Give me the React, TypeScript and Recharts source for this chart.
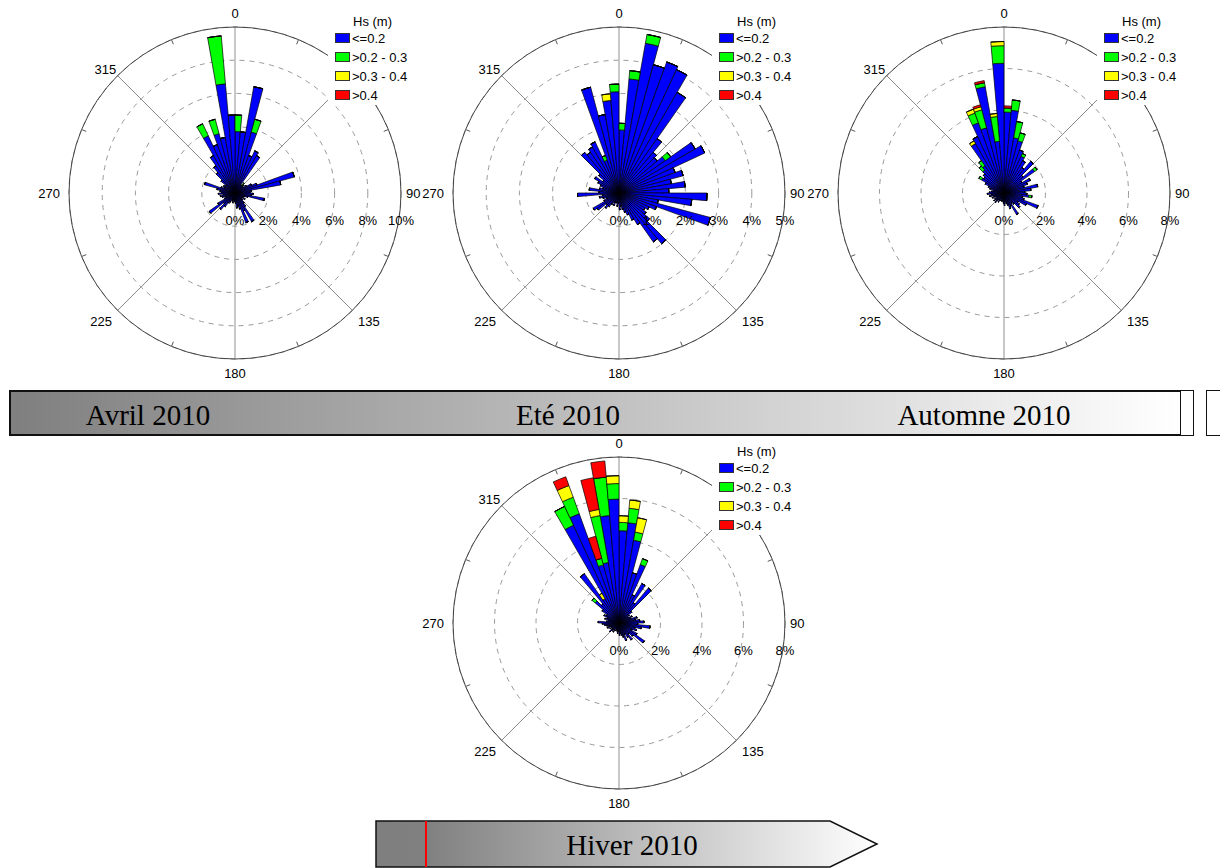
import React from "react";
import {
  RadialBarChart,
  RadialBar,
  PolarAngleAxis,
  PolarRadiusAxis,
  PolarGrid,
} from "recharts";

// direction bins (start of each 5° sector, compass degrees)
const DIRECTIONS = [
  0, 5, 10, 15, 20, 25, 30, 35, 40, 45, 50, 55,
  60, 65, 70, 75, 80, 85, 90, 95, 100, 105, 110, 115,
  120, 125, 130, 135, 140, 145, 150, 155, 160, 165, 170, 175,
  180, 185, 190, 195, 200, 205, 210, 215, 220, 225, 230, 235,
  240, 245, 250, 255, 260, 265, 270, 275, 280, 285, 290, 295,
  300, 305, 310, 315, 320, 325, 330, 335, 340, 345, 350, 355,
];

const HS_CLASSES = ["<=0.2", ">0.2 - 0.3", ">0.3 - 0.4", ">0.4"];
const HS_COLORS = ["#0000ff", "#00ff00", "#ffff00", "#ff0000"];
const HS_KEYS = ["low", "mid", "high", "top"];

const COMPASS_LABELS = [0, 90, 135, 180, 225, 270, 315];
const RIM_TICKS = [22.5, 67.5, 112.5, 157.5, 202.5, 247.5, 292.5, 337.5];

const NO_DATA = [
  0, 0, 0, 0, 0, 0, 0, 0, 0, 0, 0, 0,
  0, 0, 0, 0, 0, 0, 0, 0, 0, 0, 0, 0,
  0, 0, 0, 0, 0, 0, 0, 0, 0, 0, 0, 0,
  0, 0, 0, 0, 0, 0, 0, 0, 0, 0, 0, 0,
  0, 0, 0, 0, 0, 0, 0, 0, 0, 0, 0, 0,
  0, 0, 0, 0, 0, 0, 0, 0, 0, 0, 0, 0,
];

// Avril 2010 (% of time)
const AVRIL_LOW = [
  3.7, 3.7, 6.5, 3.8, 2.4, 2.8, 2.6, 0.6, 0.6, 0.7, 0.6, 0.8,
  1.1, 1.4, 3.7, 2.8, 1.0, 0.9, 1.1, 1.0, 1.8, 0.8, 0.6, 0.5,
  0.7, 0.5, 0.6, 0.8, 1.0, 2.0, 1.2, 1.9, 1.0, 0.8, 0.9, 0.6,
  0.5, 0.4, 0.6, 0.5, 0.4, 0.6, 0.7, 1.0, 1.3, 0.9, 1.9, 1.2,
  0.7, 0.6, 0.8, 0.9, 0.7, 1.0, 0.8, 0.9, 1.1, 1.9, 0.9, 0.7,
  0.8, 0.7, 1.1, 1.6, 2.0, 2.6, 3.8, 3.1, 3.7, 3.4, 6.6, 4.7,
];
const AVRIL_MID = [
  1.0, 0, 0, 0.8, 0, 0, 0, 0, 0.2, 0, 0, 0,
  0, 0, 0, 0, 0, 0, 0, 0, 0, 0, 0, 0,
  0, 0, 0, 0, 0, 0, 0, 0, 0, 0, 0, 0,
  0, 0, 0, 0, 0, 0, 0, 0, 0, 0, 0, 0,
  0, 0, 0, 0, 0, 0, 0, 0, 0, 0, 0, 0,
  0, 0, 0, 0, 0, 0, 0.8, 0, 0.9, 0, 2.9, 0,
];

// Eté 2010
const ETE_LOW = [
  1.9, 3.45, 4.58, 4.0, 4.2, 4.1, 3.5, 2.0, 1.6, 1.5, 1.7, 2.65,
  2.85, 1.8, 2.0, 1.6, 2.0, 1.5, 2.65, 2.2, 1.2, 2.85, 1.2, 1.0,
  0.9, 1.0, 1.2, 2.0, 1.8, 1.1, 0.9, 0.7, 0.6, 0.5, 0.4, 0.5,
  0.3, 0.4, 0.3, 0.3, 0.4, 0.3, 0.4, 0.5, 0.6, 0.5, 0.8, 0.9,
  0.5, 0.4, 0.5, 0.6, 0.5, 1.25, 0.6, 0.9, 0.6, 0.5, 0.6, 0.7,
  0.85, 0.6, 0.8, 1.6, 1.5, 1.6, 1.7, 1.05, 3.3, 2.4, 2.8, 3.05,
];
const ETE_MID = [
  0.2, 0.25, 0.27, 0, 0, 0, 0, 0, 0, 0, 0.2, 0,
  0, 0, 0, 0, 0, 0, 0, 0, 0, 0, 0, 0,
  0, 0, 0, 0, 0, 0, 0, 0, 0, 0, 0, 0,
  0, 0, 0, 0, 0, 0, 0, 0, 0, 0, 0, 0,
  0, 0, 0, 0, 0, 0, 0, 0, 0, 0, 0, 0,
  0, 0, 0, 0, 0, 0, 0, 0.15, 0, 0, 0, 0.23,
];
const ETE_HIGH = [
  0, 0, 0, 0, 0, 0, 0, 0, 0, 0, 0, 0,
  0, 0, 0, 0, 0, 0, 0, 0, 0, 0, 0, 0,
  0, 0, 0, 0, 0, 0, 0, 0, 0, 0, 0, 0,
  0, 0, 0, 0, 0, 0, 0, 0, 0, 0, 0, 0,
  0, 0, 0, 0, 0, 0, 0, 0, 0, 0, 0, 0,
  0, 0, 0, 0, 0, 0, 0, 0, 0, 0, 0.2, 0,
];

// Automne 2010
const AUTOMNE_LOW = [
  3.9, 4.0, 2.7, 2.6, 2.2, 1.95, 1.8, 1.5, 2.0, 1.2, 1.8, 1.0,
  1.4, 1.2, 1.0, 1.65, 1.3, 1.0, 1.1, 1.2, 0.9, 1.0, 1.75, 1.2,
  0.8, 0.9, 1.0, 0.7, 0.6, 1.2, 0.7, 0.8, 0.6, 0.5, 0.4, 0.6,
  0.5, 0.4, 0.3, 0.4, 0.3, 0.4, 0.5, 0.4, 0.6, 0.5, 0.6, 0.5,
  0.4, 0.6, 0.5, 0.7, 0.6, 0.8, 0.7, 0.6, 0.5, 0.7, 0.8, 1.0,
  1.25, 1.2, 1.3, 1.45, 1.6, 2.75, 3.0, 3.6, 3.25, 5.2, 2.5, 6.25,
];
const AUTOMNE_MID = [
  0.2, 0.5, 0.8, 0.4, 0, 0.15, 0, 0, 0, 0, 0.15, 0,
  0, 0, 0, 0, 0, 0, 0, 0.15, 0, 0, 0, 0,
  0, 0, 0, 0, 0, 0, 0, 0, 0, 0, 0, 0,
  0, 0, 0, 0, 0, 0, 0, 0, 0, 0, 0, 0,
  0, 0, 0, 0, 0, 0, 0, 0, 0, 0, 0, 0,
  0.15, 0, 0, 0.25, 0.3, 0, 0, 0.5, 0.9, 0.2, 1.2, 0.85,
];
const AUTOMNE_HIGH = [
  0, 0, 0, 0, 0, 0, 0, 0, 0, 0, 0, 0,
  0, 0, 0, 0, 0, 0, 0, 0, 0, 0, 0, 0,
  0, 0, 0, 0, 0, 0, 0, 0, 0, 0, 0, 0,
  0, 0, 0, 0, 0, 0, 0, 0, 0, 0, 0, 0,
  0, 0, 0, 0, 0, 0, 0, 0, 0, 0, 0, 0,
  0, 0, 0, 0, 0, 0.15, 0, 0.2, 0.15, 0, 0.15, 0.2,
];
const AUTOMNE_TOP = [
  0.1, 0, 0, 0, 0, 0, 0, 0, 0, 0, 0, 0,
  0, 0, 0, 0, 0, 0, 0, 0, 0, 0, 0, 0,
  0, 0, 0, 0, 0, 0, 0, 0, 0, 0, 0, 0,
  0, 0, 0, 0, 0, 0, 0, 0, 0, 0, 0, 0,
  0, 0, 0, 0, 0, 0, 0, 0, 0, 0, 0, 0,
  0, 0, 0, 0, 0, 0, 0, 0, 0.1, 0.1, 0, 0,
];

// Hiver 2010
const HIVER_LOW = [
  4.45, 4.85, 4.05, 2.5, 3.0, 1.5, 2.2, 1.2, 2.2, 0.8, 0.6, 0.5,
  0.7, 0.6, 0.9, 0.8, 1.0, 1.2, 0.9, 1.5, 1.1, 0.8, 0.9, 0.7,
  1.0, 1.5, 0.9, 0.7, 1.0, 0.8, 0.6, 0.9, 0.7, 0.6, 0.5, 0.6,
  0.4, 0.5, 0.4, 0.3, 0.4, 0.3, 0.5, 0.4, 0.5, 0.6, 0.4, 0.5,
  0.4, 0.6, 0.5, 0.6, 0.7, 0.8, 1.0, 0.6, 0.5, 0.7, 0.6, 0.8,
  0.7, 1.0, 1.5, 1.2, 2.9, 1.35, 5.2, 5.6, 2.9, 2.96, 5.2, 5.97,
];
const HIVER_MID = [
  0.4, 0.7, 0.4, 0, 0.3, 0, 0, 0, 0, 0, 0, 0,
  0, 0, 0, 0, 0, 0, 0, 0, 0, 0, 0, 0,
  0, 0, 0, 0, 0, 0, 0, 0, 0, 0, 0, 0,
  0, 0, 0, 0, 0, 0, 0, 0, 0, 0, 0, 0,
  0, 0, 0, 0, 0, 0, 0, 0, 0, 0, 0, 0,
  0, 0, 0.2, 0, 0, 0, 1.0, 0.85, 0.33, 2.3, 1.86, 0.75,
];
const HIVER_HIGH = [
  0.32, 0.4, 0.7, 0, 0, 0, 0, 0, 0, 0, 0, 0,
  0, 0, 0, 0, 0, 0, 0, 0, 0, 0, 0, 0,
  0, 0, 0, 0, 0, 0, 0, 0, 0, 0, 0, 0,
  0, 0, 0, 0, 0, 0, 0, 0, 0, 0, 0, 0,
  0, 0, 0, 0, 0, 0, 0, 0, 0, 0, 0, 0,
  0, 0, 0, 0, 0, 0.3, 0, 0.6, 0, 0.3, 0, 0.38,
];
const HIVER_TOP = [
  0, 0, 0, 0, 0, 0, 0, 0, 0, 0, 0, 0,
  0, 0, 0, 0, 0, 0, 0, 0, 0, 0, 0, 0,
  0, 0, 0, 0, 0, 0, 0, 0, 0, 0, 0, 0,
  0, 0, 0, 0, 0, 0, 0, 0, 0, 0, 0, 0,
  0, 0, 0, 0, 0, 0, 0, 0, 0, 0, 0, 0,
  0, 0, 0, 0, 0, 0, 0, 0.45, 1.1, 1.55, 0.78, 0,
];

const TICKS_10 = [0, 2, 4, 6, 8, 10];
const MINOR_10 = [3, 5, 7, 9];
const TICKS_5 = [0, 1, 2, 3, 4, 5];
const MINOR_5 = [3.5, 4.5];
const TICKS_8 = [0, 2, 4, 6, 8];
const MINOR_8 = [3, 5, 7];

const ROSES = [
  { id: "avril", cx: 235, cy: 193, max: 10, ticks: TICKS_10, minor: MINOR_10, series: [AVRIL_LOW, AVRIL_MID, NO_DATA, NO_DATA] },
  { id: "ete", cx: 619, cy: 193, max: 5, ticks: TICKS_5, minor: MINOR_5, series: [ETE_LOW, ETE_MID, ETE_HIGH, NO_DATA] },
  { id: "automne", cx: 1004, cy: 193, max: 8, ticks: TICKS_8, minor: MINOR_8, series: [AUTOMNE_LOW, AUTOMNE_MID, AUTOMNE_HIGH, AUTOMNE_TOP] },
  { id: "hiver", cx: 619, cy: 623, max: 8, ticks: TICKS_8, minor: MINOR_8, series: [HIVER_LOW, HIVER_MID, HIVER_HIGH, HIVER_TOP] },
];

const SEASON_LABELS = [
  { label: "Avril 2010", x: 148 },
  { label: "Eté 2010", x: 568 },
  { label: "Automne 2010", x: 984 },
];

const FONT = '"Liberation Sans", Arial, sans-serif';
const SERIF = '"Liberation Serif", "Times New Roman", serif';
const R = 166;
const BOX_W = 400;
const BOX_H = 400;
const OX = 200;
const OY = 193;

function polar(cx: number, cy: number, r: number, deg: number) {
  const a = (deg * Math.PI) / 180;
  return { x: cx + r * Math.sin(a), y: cy - r * Math.cos(a) };
}

function AngleTick(props: any) {
  const dir = Number(props.payload?.value);
  const parts: React.ReactNode[] = [];
  const mid = dir + 2.5;
  if (RIM_TICKS.includes(mid)) {
    const a = polar(OX, OY, R - 5, mid);
    const b = polar(OX, OY, R, mid);
    parts.push(<line key="t" x1={a.x} y1={a.y} x2={b.x} y2={b.y} stroke="#555" strokeWidth={1} />);
  }
  if (COMPASS_LABELS.includes(dir)) {
    const rad = (dir * Math.PI) / 180;
    const s = Math.sin(rad);
    const c = Math.cos(rad);
    const diagonal = Math.abs(s) > 0.1 && Math.abs(c) > 0.1;
    const gap = diagonal ? (c > 0 ? 2 : 8) : s > 0.5 ? 5 : 9;
    const p = polar(OX, OY, R + gap, dir);
    const anchor = s > 0.1 ? "start" : s < -0.1 ? "end" : "middle";
    const baseline = c > 0.1 ? "auto" : c < -0.1 ? "hanging" : "central";
    parts.push(
      <text key="l" x={p.x} y={p.y} textAnchor={anchor} dominantBaseline={baseline} fontFamily={FONT} fontSize={13} fill="#000">
        {dir}
      </text>
    );
  }
  return <g>{parts}</g>;
}

function RadiusLabel(props: any) {
  return (
    <text x={props.x} y={props.y + 27} textAnchor="middle" dominantBaseline="central" fontFamily={FONT} fontSize={13} fill="#000">
      {`${props.payload.value}%`}
    </text>
  );
}

function RadiusMark(props: any) {
  return <line x1={props.x} x2={props.x} y1={props.y} y2={props.y + 7} stroke="#777" strokeWidth={1} />;
}

function HsLegend({ left, top }: { left: number; top: number }) {
  return (
    <div style={{ position: "absolute", left, top, width: 95, height: 95, background: "#fff", fontFamily: FONT, fontSize: 13, color: "#000" }}>
      <div style={{ position: "absolute", left: 25, top: 4, lineHeight: "16px", whiteSpace: "nowrap" }}>Hs (m)</div>
      {HS_CLASSES.map((label, i) => (
        <div key={label} style={{ position: "absolute", left: 7, top: 21 + i * 19, height: 14, display: "flex", alignItems: "center", whiteSpace: "nowrap" }}>
          <span style={{ display: "inline-block", width: 15, height: 10, boxSizing: "border-box", background: HS_COLORS[i], border: "1px solid #333", marginRight: 2 }} />
          <span>{label}</span>
        </div>
      ))}
    </div>
  );
}

function WindRose({ cx, cy, max, ticks, minor, series }: (typeof ROSES)[number]) {
  const rows = DIRECTIONS.map((dir, i) => ({
    dir,
    low: series[0][i],
    mid: series[1][i],
    high: series[2][i],
    top: series[3][i],
  }));

  // angle range shifted by one bin so that bin [0°,5°) starts exactly at north
  return (
    <div style={{ position: "absolute", left: cx - OX, top: cy - OY, width: BOX_W, height: BOX_H }}>
      <RadialBarChart
        width={BOX_W}
        height={BOX_H}
        data={rows}
        cx={OX}
        cy={OY}
        innerRadius={0}
        outerRadius={R}
        startAngle={85}
        endAngle={-275}
        layout="centric"
        barCategoryGap={0}
        margin={{ top: 0, right: 0, bottom: 0, left: 0 }}
      >
        <PolarGrid gridType="polygon" polarAngles={[90, -90]} polarRadius={[R]} stroke="#c4c4c4" strokeWidth={1.5} />
        <PolarGrid gridType="polygon" polarAngles={[45, -135]} polarRadius={[R]} stroke="#8c8c8c" strokeWidth={1} />
        <PolarGrid gridType="polygon" polarAngles={[135, -45]} polarRadius={[R]} stroke="#8c8c8c" strokeWidth={1} />
        <PolarGrid gridType="circle" radialLines={false} stroke="#9a9a9a" strokeDasharray="5 5" />
        <PolarGrid gridType="circle" radialLines={false} polarRadius={[R]} stroke="#444" strokeWidth={1} />
        <PolarAngleAxis dataKey="dir" type="category" tick={AngleTick} tickLine={false} axisLine={false} />
        <PolarRadiusAxis type="number" domain={[0, max]} ticks={ticks} angle={0} axisLine={false} tickLine={false} tick={RadiusLabel} />
        <PolarRadiusAxis radiusAxisId="minor" type="number" domain={[0, max]} ticks={minor} angle={0} axisLine={false} tickLine={false} tick={RadiusMark} />
        {HS_KEYS.map((key, i) => (
          <RadialBar
            key={key}
            dataKey={key}
            stackId="hs"
            fill={HS_COLORS[i]}
            stroke="#000"
            strokeWidth={0.7}
            isAnimationActive={false}
          />
        ))}
      </RadialBarChart>
      <HsLegend left={OX + 93} top={OY - 183} />
    </div>
  );
}

function SeasonBars() {
  return (
    <>
      <div
        style={{
          position: "absolute",
          left: 9,
          top: 390,
          width: 1173,
          height: 46,
          boxSizing: "border-box",
          border: "2px solid #111",
          background: "linear-gradient(to right, #7f7f7f, #ffffff)",
        }}
      />
      <div style={{ position: "absolute", left: 1180, top: 390, width: 14, height: 46, boxSizing: "border-box", border: "1.5px solid #111", background: "#fff" }} />
      <div style={{ position: "absolute", left: 1206, top: 390, width: 20, height: 46, boxSizing: "border-box", border: "1.5px solid #111", background: "#fff" }} />
      {SEASON_LABELS.map((s) => (
        <div
          key={s.label}
          style={{ position: "absolute", left: s.x - 150, top: 398, width: 300, textAlign: "center", fontFamily: SERIF, fontSize: 29, lineHeight: "34px", color: "#000" }}
        >
          {s.label}
        </div>
      ))}
      <svg style={{ position: "absolute", left: 370, top: 815 }} width={520} height={53}>
        <defs>
          <linearGradient id="hiverGrad" x1="0" x2="1" y1="0" y2="0">
            <stop offset="0" stopColor="#7f7f7f" />
            <stop offset="0.1" stopColor="#808080" />
            <stop offset="1" stopColor="#ffffff" />
          </linearGradient>
        </defs>
        <polygon points="6,6 460,6 507,29 460,52 6,52" fill="url(#hiverGrad)" stroke="#111" strokeWidth={1.5} />
        <line x1={56} x2={56} y1={6} y2={52} stroke="#ff0000" strokeWidth={2} />
        <text x={262} y={40} textAnchor="middle" fontFamily={SERIF} fontSize={29} fill="#000">
          Hiver 2010
        </text>
      </svg>
    </>
  );
}

export default function App() {
  return (
    <div style={{ position: "absolute", left: 0, top: 0, width: 1220, height: 868, background: "#fff", overflow: "hidden" }}>
      {ROSES.map((rose) => (
        <WindRose key={rose.id} {...rose} />
      ))}
      <SeasonBars />
    </div>
  );
}
